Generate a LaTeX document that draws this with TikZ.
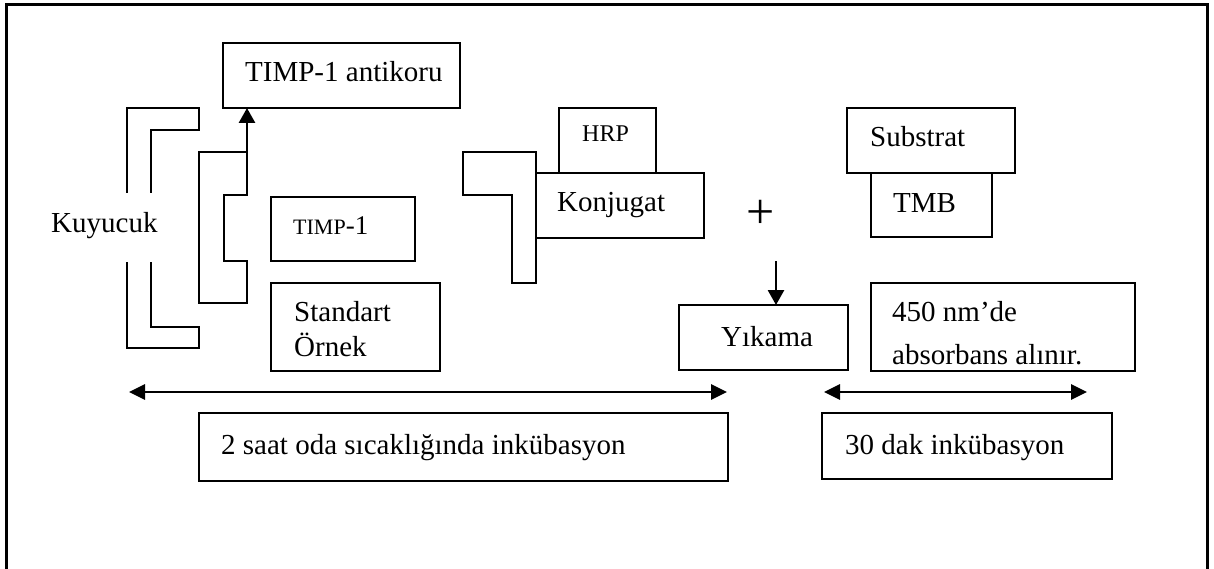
\documentclass[tikz,border=0pt]{standalone}
\usepackage{fontspec}
\setmainfont{Liberation Serif}
\usetikzlibrary{arrows.meta}
\tikzset{
  box/.style={draw, line width=2.8pt, rectangle, inner sep=0pt, outer sep=0pt},
  wellline/.style={draw, line width=2.8pt, line join=miter},
  txt/.style={inner sep=0pt, anchor=base west, font=\fontsize{29}{35}\selectfont},
  smalltxt/.style={inner sep=0pt, anchor=base west, font=\fontsize{24}{29}\selectfont},
  uparrow/.style={line width=2.8pt, -{Triangle[length=15pt,width=16pt]}},
  dblarrow/.style={line width=2.8pt, {Triangle[length=16pt,width=15pt]}-{Triangle[length=16pt,width=15pt]}},
  frameline/.style={line width=3pt}
}
\begin{document}
\begin{tikzpicture}[x=1pt,y=-1pt]
\useasboundingbox (0,0) rectangle (1214,569);
% outer frame (open at bottom)
\draw[frameline] (6.5,569) -- (6.5,5) -- (1207.5,5) -- (1207.5,569);

% boxes
\node[box, minimum width=237pt, minimum height=65pt] (antikoru) at (341.5,75.5) {};
\node[box, minimum width=144pt, minimum height=64pt] (timp) at (343,229) {};
\node[box, minimum width=169pt, minimum height=88pt] (standart) at (355.5,327) {};
\node[box, minimum width=97pt, minimum height=65pt] (hrp) at (607.5,140.5) {};
\node[box, minimum width=168pt, minimum height=65pt] (konjugat) at (620,205.5) {};
\node[box, minimum width=168pt, minimum height=65pt] (substrat) at (931,140.5) {};
\node[box, minimum width=121pt, minimum height=64pt] (tmb) at (931.5,205) {};
\node[box, minimum width=169pt, minimum height=65pt] (yikama) at (763.5,337.5) {};
\node[box, minimum width=264pt, minimum height=88pt] (nm) at (1003,327) {};
\node[box, minimum width=529pt, minimum height=68pt] (saat) at (463.5,447) {};
\node[box, minimum width=290pt, minimum height=66pt] (dak) at (967,446) {};

% wells
\draw[wellline] (127,193) -- (127,108) -- (199,108) -- (199,130) -- (151,130) -- (151,193);
\draw[wellline] (127,262) -- (127,348) -- (199,348) -- (199,327) -- (151,327) -- (151,262);
\draw[wellline] (199,152) -- (247,152) -- (247,195) -- (224,195) -- (224,261) -- (247,261) -- (247,303) -- (199,303) -- cycle;
\draw[wellline] (463,152) -- (536,152) -- (536,283) -- (512,283) -- (512,195) -- (463,195) -- cycle;

% texts
\node[txt] (tkuyucuk) at (51,233) {Kuyucuk};
\node[txt] (tantikoru) at (245,82) {TIMP-1 antikoru};
\node[inner sep=0pt, anchor=base west] (ttimp) at (293,234) {\fontsize{22}{26}\selectfont TIMP\fontsize{27}{30}\selectfont -1};
\node[txt] (tstandart) at (294,321) {Standart};
\node[txt] (tornek) at (294,356) {Örnek};
\node[smalltxt] (thrp) at (582,142) {HRP};
\node[txt] (tkonjugat) at (557,212) {Konjugat};
\node[inner sep=0pt, font=\fontsize{50}{54}\selectfont] (plus) at (761,214) {+};
\node[txt] (tsubstrat) at (870,147) {Substrat};
\node[txt] (ttmb) at (893,213) {TMB};
\node[txt] (tyikama) at (721,346) {Yıkama};
\node[txt] (tnm1) at (892,321) {450 nm’de};
\node[txt] (tnm2) at (892,364) {absorbans alınır.};
\node[txt] (tsaat) at (221,454) {2 saat oda sıcaklığında inkübasyon};
\node[txt] (tdak) at (845,454) {30 dak inkübasyon};

% connectors
\coordinate (wtop) at (247,152);
\draw[uparrow] (wtop) -- (wtop |- antikoru.south);
\coordinate (ystart) at (776,261);
\draw[uparrow] (ystart) -- (ystart |- yikama.north);
\coordinate (la) at (129,392);
\coordinate (lb) at (727,392);
\draw[dblarrow] (la) -- (lb);
\coordinate (sa) at (824,392);
\coordinate (sb) at (1087,392);
\draw[dblarrow] (sa) -- (sb);
\end{tikzpicture}
\end{document}
